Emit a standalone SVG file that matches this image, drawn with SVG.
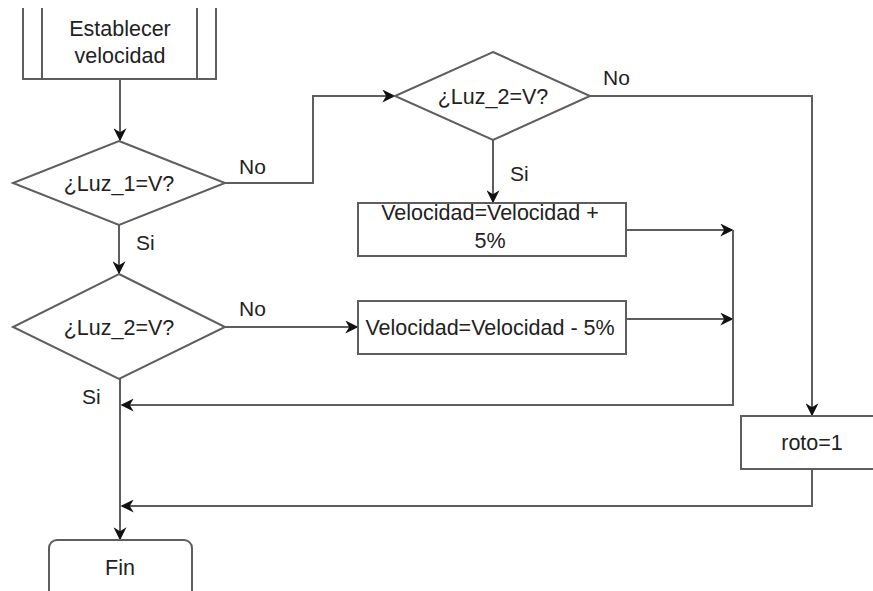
<svg xmlns="http://www.w3.org/2000/svg" width="873" height="591" viewBox="0 0 873 591">
<defs>
<style>
.s{fill:#fff;stroke:#5e5e5e;stroke-width:2}
.c{fill:none;stroke:#5e5e5e;stroke-width:2}
.t{font-family:"Liberation Sans",Arial,sans-serif;font-size:21.5px;fill:#222;text-anchor:middle}
.l{font-family:"Liberation Sans",Arial,sans-serif;font-size:21px;fill:#222}
</style>
<marker id="a" viewBox="0 0 10 10" refX="9" refY="5" markerWidth="6.5" markerHeight="6.5" orient="auto" markerUnits="strokeWidth">
<path d="M0,0 L10,5 L0,10 L3,5 Z" fill="#111"/>
</marker>
</defs>
<rect width="873" height="591" fill="#fff"/>
<g id="connectors">
<path class="c" d="M120,79 V140" marker-end="url(#a)"/>
<path class="c" d="M225,183 H313 V96 H394" marker-end="url(#a)"/>
<path class="c" d="M119,225 V273" marker-end="url(#a)"/>
<path class="c" d="M225,327 H357" marker-end="url(#a)"/>
<path class="c" d="M493,140 V202" marker-end="url(#a)"/>
<path class="c" d="M590,96 H812 V415" marker-end="url(#a)"/>
<path class="c" d="M626,230 H732" marker-end="url(#a)"/>
<path class="c" d="M626,319 H732" marker-end="url(#a)"/>
<path class="c" d="M733,230 V405 H122" marker-end="url(#a)"/>
<path class="c" d="M812,470 V506 H122" marker-end="url(#a)"/>
<path class="c" d="M120,379 V539" marker-end="url(#a)"/>
<text class="l" x="239" y="174">No</text>
<text class="l" x="136" y="250">Si</text>
<text class="l" x="239" y="316">No</text>
<text class="l" x="82" y="404">Si</text>
<text class="l" x="603" y="85">No</text>
<text class="l" x="510" y="181">Si</text>
</g>
<g id="establecer">
<rect x="23" y="8" width="193" height="71" fill="#fff"/>
<path class="c" d="M23,8 V79 H216 V8"/>
<line class="c" x1="42" y1="8" x2="42" y2="79"/>
<line class="c" x1="197" y1="8" x2="197" y2="79"/>
<text class="t" x="120" y="36">Establecer</text>
<text class="t" x="120" y="63">velocidad</text>
</g>
<g id="luz1">
<polygon class="s" points="119,141 225,183 119,225 13,183"/>
<text class="t" x="119" y="191">¿Luz_1=V?</text>
</g>
<g id="luz2a">
<polygon class="s" points="119,274 225,327 119,379 13,327"/>
<text class="t" x="119" y="335">¿Luz_2=V?</text>
</g>
<g id="luz2b">
<polygon class="s" points="493,52 590,96 493,140 395,96"/>
<text class="t" x="493" y="104">¿Luz_2=V?</text>
</g>
<g id="vmas">
<rect class="s" x="358" y="203" width="268" height="53"/>
<text class="t" x="490" y="220">Velocidad=Velocidad +</text>
<text class="t" x="490" y="248">5%</text>
</g>
<g id="vmenos">
<rect class="s" x="358" y="301" width="268" height="53"/>
<text class="t" x="490" y="335">Velocidad=Velocidad - 5%</text>
</g>
<g id="roto">
<rect class="s" x="741" y="416" width="142" height="53"/>
<text class="t" x="812" y="450">roto=1</text>
</g>
<g id="fin">
<rect class="s" x="49" y="540" width="143" height="70" rx="8"/>
<text class="t" x="120" y="575">Fin</text>
</g>
</svg>
